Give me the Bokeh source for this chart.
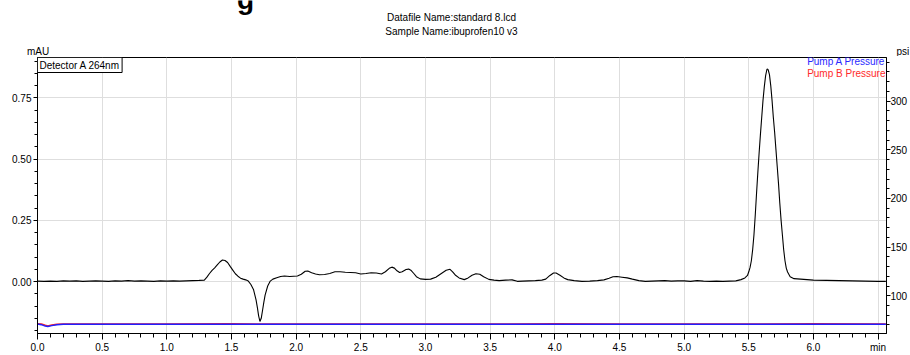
from bokeh.plotting import figure
from bokeh.layouts import column
from bokeh.models import Range1d, LinearAxis, FixedTicker, Label
from bokeh.core.properties import value
from bokeh.embed import file_html
from bokeh.resources import INLINE

# Detector A (264 nm) trace: retention time (min) and absorbance (mAU)
det_time = [
    0.00, 0.05, 0.10, 0.15, 0.20, 0.25, 0.30, 0.35, 0.40, 0.45, 0.50, 0.55, 0.60,
    0.65, 0.70, 0.75, 0.80, 0.85, 0.90, 0.95, 1.00, 1.05, 1.10, 1.15, 1.20, 1.25,
    1.29, 1.31, 1.33, 1.35, 1.37, 1.39, 1.41, 1.43, 1.45, 1.47, 1.49, 1.51, 1.53,
    1.55, 1.57, 1.59, 1.61, 1.63, 1.65, 1.67, 1.69, 1.70, 1.71, 1.72, 1.73, 1.74,
    1.75, 1.76, 1.78, 1.80, 1.82, 1.85, 1.88, 1.91, 1.95, 1.98, 2.01, 2.04, 2.07,
    2.09, 2.12, 2.15, 2.18, 2.22, 2.26, 2.30, 2.34, 2.38, 2.42, 2.46, 2.50, 2.54,
    2.58, 2.62, 2.66, 2.69, 2.72, 2.74, 2.76, 2.78, 2.80, 2.82, 2.85, 2.87, 2.89,
    2.91, 2.93, 2.96, 3.00, 3.04, 3.08, 3.12, 3.16, 3.19, 3.21, 3.23, 3.26, 3.30,
    3.33, 3.36, 3.39, 3.42, 3.45, 3.49, 3.53, 3.57, 3.62, 3.67, 3.71, 3.75, 3.80,
    3.85, 3.90, 3.93, 3.96, 3.99, 4.01, 4.04, 4.07, 4.10, 4.15, 4.21, 4.27, 4.33,
    4.38, 4.42, 4.45, 4.48, 4.52, 4.56, 4.60, 4.65, 4.70, 4.75, 4.80, 4.85, 4.90,
    4.95, 5.00, 5.05, 5.10, 5.15, 5.20, 5.25, 5.30, 5.35, 5.40, 5.44, 5.47, 5.49,
    5.50, 5.51, 5.52, 5.53, 5.54, 5.55, 5.56, 5.57, 5.58, 5.59, 5.60, 5.61, 5.62,
    5.63, 5.64, 5.645, 5.65, 5.66, 5.67, 5.68, 5.69, 5.70, 5.71, 5.72, 5.73, 5.74,
    5.75, 5.76, 5.77, 5.78, 5.79, 5.80, 5.82, 5.85, 5.90, 5.95, 6.00, 6.10, 6.20,
    6.30, 6.40, 6.50, 6.56,
]
det_mau = [
    0.002, 0.001, 0.002, 0.001, 0.003, 0.002, 0.003, 0.001, 0.002, 0.003, 0.002, 0.001, 0.003,
    0.002, 0.004, 0.002, 0.003, 0.002, 0.001, 0.003, 0.002, 0.003, 0.002, 0.003, 0.004, 0.005,
    0.006, 0.018, 0.033, 0.046, 0.056, 0.068, 0.080, 0.088, 0.086, 0.078, 0.062, 0.047, 0.032,
    0.022, 0.014, 0.010, 0.007, 0.002, -0.012, -0.032, -0.075, -0.105, -0.140, -0.163, -0.150, -0.118,
    -0.085, -0.055, -0.018, 0.002, 0.010, 0.016, 0.021, 0.023, 0.021, 0.022, 0.023, 0.030, 0.042,
    0.043, 0.036, 0.031, 0.028, 0.029, 0.033, 0.040, 0.040, 0.038, 0.037, 0.036, 0.031, 0.033,
    0.036, 0.035, 0.031, 0.040, 0.054, 0.059, 0.055, 0.044, 0.037, 0.040, 0.049, 0.051, 0.045,
    0.033, 0.020, 0.011, 0.009, 0.010, 0.018, 0.032, 0.046, 0.050, 0.040, 0.027, 0.015, 0.008,
    0.015, 0.026, 0.032, 0.030, 0.020, 0.009, 0.006, 0.004, 0.006, 0.007, 0.001, 0.002, 0.003,
    0.004, 0.006, 0.010, 0.024, 0.035, 0.035, 0.026, 0.015, 0.008, 0.004, 0.001, 0.002, 0.004,
    0.007, 0.014, 0.020, 0.021, 0.018, 0.015, 0.010, 0.004, 0.001, 0.002, 0.003, 0.004, 0.002,
    0.003, 0.003, 0.001, 0.004, 0.002, 0.001, 0.002, 0.001, 0.002, 0.003, 0.008, 0.015, 0.025,
    0.040, 0.058, 0.085, 0.130, 0.190, 0.270, 0.360, 0.445, 0.525, 0.600, 0.670, 0.740, 0.795,
    0.840, 0.866, 0.868, 0.865, 0.845, 0.800, 0.740, 0.670, 0.610, 0.540, 0.470, 0.400, 0.320,
    0.250, 0.190, 0.130, 0.085, 0.055, 0.039, 0.020, 0.012, 0.010, 0.008, 0.006, 0.005, 0.004,
    0.003, 0.002, 0.001, 0.001,
]

# Pump pressures (psi)
pump_time = [0.00, 0.03, 0.06, 0.08, 0.11, 0.15, 0.20, 0.50, 1.00, 1.50, 2.00, 2.50,
             3.00, 3.50, 4.00, 4.50, 5.00, 5.50, 6.00, 6.56]
pump_a_psi = [70.9, 70.3, 68.8, 68.3, 69.3, 70.2, 70.6, 70.7, 70.6, 70.7, 70.7, 70.6,
              70.7, 70.7, 70.6, 70.7, 70.7, 70.6, 70.7, 70.7]
pump_b_psi = [71.3, 71.0, 69.6, 68.9, 69.9, 70.6, 70.9, 71.0, 70.9, 71.1, 70.9, 71.0,
              71.0, 70.9, 71.1, 71.0, 70.9, 71.0, 71.1, 71.0]

# Axis ticks and labels
x_ticks = [0.0, 0.5, 1.0, 1.5, 2.0, 2.5, 3.0, 3.5, 4.0, 4.5, 5.0, 5.5, 6.0, 6.5]
x_tick_labels = ["0.0", "0.5", "1.0", "1.5", "2.0", "2.5", "3.0", "3.5", "4.0", "4.5",
                 "5.0", "5.5", "6.0", "min"]
y_ticks = [0.0, 0.25, 0.50, 0.75]
y_tick_labels = ["0.00", "0.25", "0.50", "0.75"]
psi_ticks = [100, 150, 200, 250, 300]
psi_tick_labels = ["100", "150", "200", "250", "300"]

title_lines = ["Datafile Name:standard 8.lcd", "Sample Name:ibuprofen10 v3"]

FONT = "Liberation Sans"
W = 910
HEADER_H = 56

X_END = 6.565
Y_START, Y_END = -0.212, 0.915
PSI_START, PSI_END = 61.2, 344.9

# ---- header strip: page heading remnant, file / sample names, unit captions ----
head = figure(
    width=W, height=HEADER_H, output_backend="svg", toolbar_location=None,
    x_range=Range1d(0, W), y_range=Range1d(HEADER_H, 0),
    min_border=0, background_fill_color="white", border_fill_color="white",
)
head.frame_align = False
head.axis.visible = False
head.grid.visible = False
head.outline_line_color = None
# lower part of a large heading glyph cut by the top edge of the page
head.text(x=[245], y=[-1], text=["g"],
          text_font=value(FONT), text_font_size="28px", text_font_style="bold",
          text_color="black", text_align="center", text_baseline="alphabetic")
head.text(x=[451, 451], y=[17, 31], text=title_lines,
          text_font=value(FONT), text_font_size="10px", text_color="black",
          text_align="center", text_baseline="middle")
head.text(x=[37.5], y=[50.5], text=["mAU"],
          text_font=value(FONT), text_font_size="10px", text_color="black",
          text_align="center", text_baseline="middle")
head.text(x=[896], y=[50.5], text=["psi"],
          text_font=value(FONT), text_font_size="10px", text_color="black",
          text_align="left", text_baseline="middle")

# ---- chromatogram ----
p = figure(
    width=W, height=355 - HEADER_H,
    output_backend="svg", toolbar_location=None,
    x_range=Range1d(0, X_END), y_range=Range1d(Y_START, Y_END),
    min_border_left=37, min_border_right=21, min_border_top=1, min_border_bottom=20,
    background_fill_color="white", border_fill_color="white",
)
p.frame_align = False
p.extra_y_ranges = {"psi": Range1d(PSI_START, PSI_END)}
p.outline_line_color = "black"
p.outline_line_width = 1

# bottom axis
xa = p.xaxis[0]
xa.ticker = FixedTicker(ticks=x_ticks, minor_ticks=[round(i * 0.1, 1) for i in range(66)])
xa.major_label_overrides = dict(zip(x_ticks, x_tick_labels))
xa.major_tick_in = 0
xa.major_tick_out = 6
xa.minor_tick_in = 0
xa.minor_tick_out = 4
xa.major_label_standoff = 2

# left axis
ya = p.yaxis[0]
ya.ticker = FixedTicker(ticks=y_ticks, minor_ticks=[round(-0.2 + i * 0.05, 2) for i in range(23)])
ya.major_label_overrides = dict(zip(y_ticks, y_tick_labels))
ya.major_tick_in = 0
ya.major_tick_out = 4
ya.minor_tick_in = 0
ya.minor_tick_out = 3
ya.major_label_standoff = 2

# right pressure axis
ra = LinearAxis(y_range_name="psi")
ra.ticker = FixedTicker(ticks=psi_ticks, minor_ticks=list(range(70, 345, 10)))
ra.major_label_overrides = dict(zip(psi_ticks, psi_tick_labels))
ra.major_tick_in = 0
ra.major_tick_out = 4
ra.minor_tick_in = 0
ra.minor_tick_out = 3
ra.major_label_standoff = 0
p.add_layout(ra, "right")

for ax in (xa, ya, ra):
    ax.axis_line_color = "black"
    ax.major_tick_line_color = "black"
    ax.minor_tick_line_color = "black"
    ax.major_label_text_font = FONT
    ax.major_label_text_font_size = "10px"
    ax.major_label_text_color = "black"

p.xgrid.ticker = FixedTicker(ticks=x_ticks)
p.ygrid.ticker = FixedTicker(ticks=y_ticks)
for g in (p.xgrid, p.ygrid):
    g.grid_line_color = "#dedede"
    g.grid_line_width = 1

# traces
p.line(pump_time, pump_b_psi, y_range_name="psi", line_color="#ff2020", line_width=1.5)
p.line(pump_time, pump_a_psi, y_range_name="psi", line_color="#2020ff", line_width=1.5)
p.line(det_time, det_mau, line_color="black", line_width=1.1)

# in-frame captions
px_x = X_END / 852.0
px_y = (Y_END - Y_START) / 278.0

p.add_layout(Label(
    x=0, y=Y_END, text="Detector A 264nm", text_font=FONT, text_font_size="10px",
    text_color="black", text_align="left", text_baseline="top",
    padding=2, border_line_color="black", border_line_width=1,
    background_fill_color="white",
))
p.add_layout(Label(
    x=X_END - 1 * px_x, y=Y_END - 4.5 * px_y, text="Pump A Pressure",
    text_font=FONT, text_font_size="10px", text_color="#2a2aff",
    text_align="right", text_baseline="middle",
))
p.add_layout(Label(
    x=X_END - 1 * px_x, y=Y_END - 16 * px_y, text="Pump B Pressure",
    text_font=FONT, text_font_size="10px", text_color="#ff2a2a",
    text_align="right", text_baseline="middle",
))

open("out.html", "w").write(file_html(column(head, p, spacing=0), INLINE))
